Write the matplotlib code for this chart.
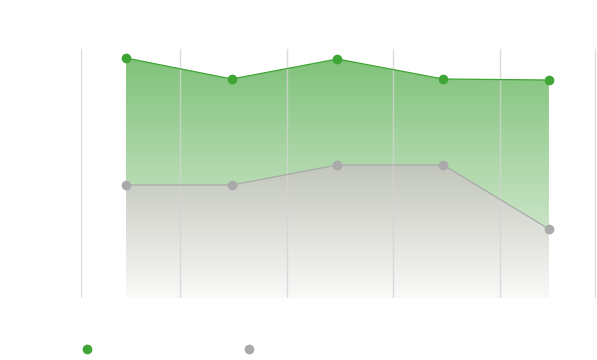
import matplotlib.pyplot as plt
import numpy as np
from matplotlib.lines import Line2D

# data
categories = [0, 1, 2, 3, 4]
green_vals = [240, 219, 239, 219, 218]
gray_vals = [113, 113, 133, 133, 69]

GREEN = '#3fa535'
GRAY = '#aaaaaa'

fig = plt.figure(figsize=(5.97, 3.6), dpi=100)
ax = fig.add_axes([81 / 597, 62 / 360, 515 / 597, 250 / 360])
ax.set_xlim(-0.425, 4.445)
ax.set_ylim(0, 250)
ax.axis('off')

# vertical grid lines (drawn over the fills, as in the reference)
for gx in [-0.425, 0.511, 1.523, 2.527, 3.537, 4.44]:
    ax.axvline(gx, ymin=0, ymax=249 / 250, color='#d4d4d4', lw=1,
               alpha=0.8, zorder=3)


def gradient_fill(x, y, top_rgb, bot_rgb, z):
    poly = ax.fill_between(x, y, 0, color='none', lw=0)
    h = 256
    t = np.linspace(1, 0, h)  # 1 at top
    img = np.ones((h, 1, 4))
    for i in range(3):
        img[:, 0, i] = (bot_rgb[i] + (top_rgb[i] - bot_rgb[i]) * t) / 255
    im = ax.imshow(img, aspect='auto', extent=[min(x), max(x), 0, max(y)],
                   origin='upper', zorder=z)
    im.set_clip_path(poly.get_paths()[0], transform=ax.transData)


gradient_fill(categories, green_vals, (128, 194, 122), (232, 242, 230), 1)
gradient_fill(categories, gray_vals, (194, 198, 187), (250, 250, 249), 2)

ax.plot(categories, green_vals, color=GREEN, lw=0.9, marker='o', ms=7,
        markeredgewidth=0, zorder=4)
ax.plot(categories, gray_vals, color=GRAY, lw=0.9, marker='o', ms=7,
        markeredgewidth=0, zorder=4)

# legend markers (labels not shown in the reference)
fig.add_artist(Line2D([87 / 597], [11 / 360], marker='o', ms=7, color=GREEN,
                      markeredgewidth=0, transform=fig.transFigure))
fig.add_artist(Line2D([249 / 597], [11 / 360], marker='o', ms=7, color=GRAY,
                      markeredgewidth=0, transform=fig.transFigure))

fig.savefig('out.png', dpi=100)
